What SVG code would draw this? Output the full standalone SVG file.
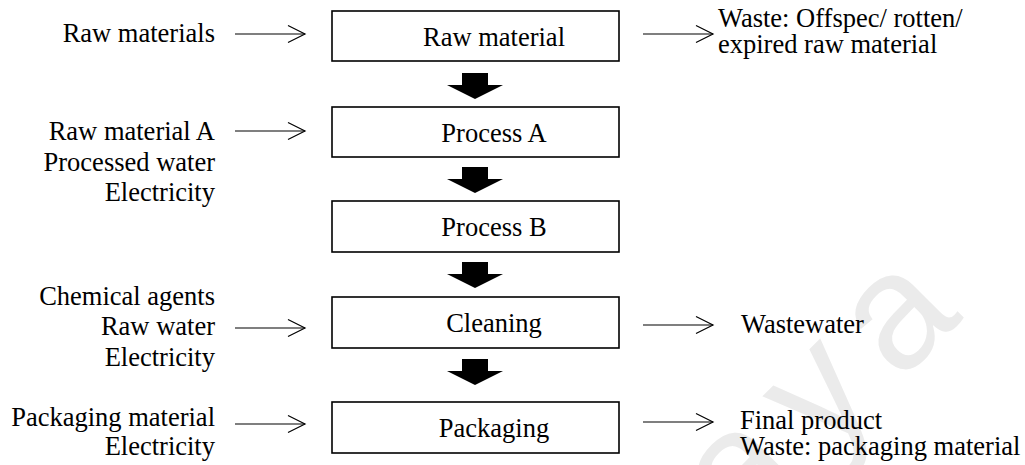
<svg xmlns="http://www.w3.org/2000/svg" width="1025" height="465" viewBox="0 0 1025 465">
  <style>
    .lbl { font-family: "Liberation Serif", "Times New Roman", Times, serif; font-size: 26.5px; fill: #000; }
    .in { text-anchor: end; }
    .out { text-anchor: start; }
    .step { text-anchor: middle; }
    .box { fill: #fff; stroke: #000; stroke-width: 1.6; }
    .flow { stroke: #000; stroke-width: 1.2; fill: none; }
    .mark { font-family: "Liberation Sans", Arial, sans-serif; font-size: 165px; fill: #ebebeb; }
  </style>
  <defs>
    <marker id="open" viewBox="0 0 20 20" refX="18" refY="10" markerWidth="20" markerHeight="20" markerUnits="userSpaceOnUse" orient="auto">
      <path d="M1,1.5 L18,10 L1,18.5" fill="none" stroke="#000" stroke-width="1.2"/>
    </marker>
    <path id="down" d="M-13,0 H13 V12 H28 L0,26 L-28,12 H-13 Z" fill="#000"/>
  </defs>

  <rect width="1025" height="465" fill="#fff"/>

  <!-- faint background watermark -->
  <text class="mark" transform="translate(742,540) rotate(-45)" letter-spacing="24" x="0" y="0">aya</text>

  <!-- process steps -->
  <g id="raw-material">
    <rect class="box" x="332" y="11" width="287" height="50"/>
    <text class="lbl step" x="494" y="46">Raw material</text>
  </g>
  <g id="process-a">
    <rect class="box" x="332" y="107" width="287" height="50"/>
    <text class="lbl step" x="494" y="142">Process A</text>
  </g>
  <g id="process-b">
    <rect class="box" x="332" y="201" width="287" height="51"/>
    <text class="lbl step" x="494" y="236">Process B</text>
  </g>
  <g id="cleaning">
    <rect class="box" x="332" y="297" width="287" height="51"/>
    <text class="lbl step" x="494" y="332">Cleaning</text>
  </g>
  <g id="packaging">
    <rect class="box" x="332" y="402" width="287" height="51"/>
    <text class="lbl step" x="494" y="437">Packaging</text>
  </g>

  <!-- inputs -->
  <g id="in-raw">
    <text class="lbl in" x="215" y="42">Raw materials</text>
  </g>
  <g id="in-process-a">
    <text class="lbl in" x="215" y="140">Raw material A</text>
    <text class="lbl in" x="215" y="171">Processed water</text>
    <text class="lbl in" x="215" y="201">Electricity</text>
  </g>
  <g id="in-cleaning">
    <text class="lbl in" x="215" y="305">Chemical agents</text>
    <text class="lbl in" x="215" y="335">Raw water</text>
    <text class="lbl in" x="215" y="366">Electricity</text>
  </g>
  <g id="in-packaging">
    <text class="lbl in" x="215" y="426">Packaging material</text>
    <text class="lbl in" x="215" y="455">Electricity</text>
  </g>

  <!-- outputs -->
  <g id="out-raw">
    <text class="lbl out" x="718" y="27">Waste: Offspec/ rotten/</text>
    <text class="lbl out" x="718" y="53">expired raw material</text>
  </g>
  <g id="out-cleaning">
    <text class="lbl out" x="741" y="333">Wastewater</text>
  </g>
  <g id="out-packaging">
    <text class="lbl out" x="740" y="429">Final product</text>
    <text class="lbl out" x="740" y="455">Waste: packaging material</text>
  </g>

  <!-- connectors -->
  <g id="connectors">
    <line class="flow" x1="235" y1="34" x2="305" y2="34" marker-end="url(#open)"/>
    <line class="flow" x1="235" y1="131" x2="305" y2="131" marker-end="url(#open)"/>
    <line class="flow" x1="235" y1="328" x2="305" y2="328" marker-end="url(#open)"/>
    <line class="flow" x1="235" y1="424" x2="305" y2="424" marker-end="url(#open)"/>
    <line class="flow" x1="643" y1="34" x2="713" y2="34" marker-end="url(#open)"/>
    <line class="flow" x1="643" y1="325" x2="713" y2="325" marker-end="url(#open)"/>
    <line class="flow" x1="643" y1="422" x2="713" y2="422" marker-end="url(#open)"/>
    <use href="#down" x="475" y="73"/>
    <use href="#down" x="475" y="167"/>
    <use href="#down" x="475" y="262"/>
    <use href="#down" x="475" y="359"/>
  </g>
</svg>
